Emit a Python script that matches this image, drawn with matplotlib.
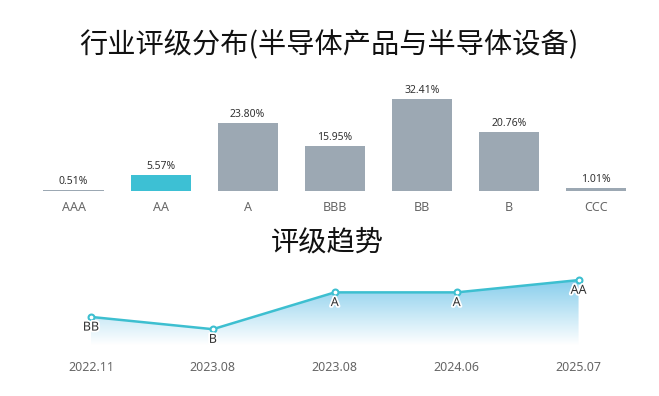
import matplotlib
matplotlib.use("Agg")
import matplotlib.pyplot as plt
import numpy as np
from matplotlib.patches import Polygon
import matplotlib.patheffects as pe

plt.rcParams['font.family'] = ['Noto Sans CJK SC', 'Noto Sans', 'DejaVu Sans']

categories = ['AAA', 'AA', 'A', 'BBB', 'BB', 'B', 'CCC']
shares = [0.51, 5.57, 23.80, 15.95, 32.41, 20.76, 1.01]
highlight = 'AA'

dates = ['2022.11', '2023.08', '2023.08', '2024.06', '2025.07']
ratings = ['BB', 'B', 'A', 'A', 'AA']
rating_scale = ['CCC', 'B', 'BB', 'BBB', 'A', 'AA', 'AAA']

W, H = 659, 396
fig = plt.figure(figsize=(W / 100, H / 100), dpi=100)

def rect(l, t, r, b):
    return [l / W, 1 - b / H, (r - l) / W, (b - t) / H]

# Titles
fig.text(329 / W, 1 - 45 / H, '行业评级分布(半导体产品与半导体设备)', ha='center', va='center',
         fontsize=20.3, color='#111111')
fig.text(327 / W, 1 - 243 / H, '评级趋势', ha='center', va='center', fontsize=20.3, color='#111111')

# Bar chart
ax1 = fig.add_axes(rect(30, 80, 639.5, 191))
x = np.arange(len(categories))
colors = ['#3dc0d4' if c == highlight else '#9ca8b3' for c in categories]
ax1.bar(x, shares, width=0.69, color=colors)
for xi, v in zip(x, shares):
    ax1.text(xi, v + 1.0, f'{v:.2f}%', ha='center', va='bottom', fontsize=7.5, color='#333333',
             family=['Noto Sans', 'DejaVu Sans'])
ax1.set_xlim(-0.5, len(categories) - 0.5)
ax1.set_ylim(0, 39)
ax1.set_xticks(x)
ax1.set_xticklabels(categories, fontsize=9, color='#666666', family=['Noto Sans', 'DejaVu Sans'])
ax1.tick_params(axis='x', length=0, pad=7)
ax1.set_yticks([])
for s in ax1.spines.values():
    s.set_visible(False)

# Line chart
ax2 = fig.add_axes(rect(30, 258, 639.5, 347))
xs = np.arange(len(dates))
ys = np.array([rating_scale.index(r) for r in ratings], dtype=float)
ybot = ys.min() - 1.45
ytopl = ys.max() + 1.8

# gradient fill
ytop = ys.max()
grad = np.linspace(0, 1, 256).reshape(-1, 1)
top = np.array([0x88, 0xce, 0xec]) / 255
bot = np.array([1, 1, 1])
img = (grad[:, :, None] * top[None, None, :] + (1 - grad[:, :, None]) * bot[None, None, :])
im = ax2.imshow(img, extent=[xs[0], xs[-1], ybot + 0.2, ytop], origin='lower', aspect='auto', zorder=1)
verts = [(xs[0], ybot)] + list(zip(xs, ys)) + [(xs[-1], ybot)]
poly = Polygon(verts, closed=True, facecolor='none', edgecolor='none')
ax2.add_patch(poly)
im.set_clip_path(poly)

ax2.plot(xs, ys, color='#3dbfd0', lw=1.8, zorder=3)
ax2.scatter(xs, ys, s=18, facecolor='white', edgecolor='#3dbfd0', linewidth=1.5, zorder=4)
for xi, yi, r in zip(xs, ys, ratings):
    ax2.text(xi, yi - 0.3, r, ha='center', va='top', fontsize=9, color='#333333', zorder=5,
             family=['Noto Sans', 'DejaVu Sans'],
             path_effects=[pe.withStroke(linewidth=2.5, foreground='white')])

ax2.set_xlim(-0.5, len(dates) - 0.5)
ax2.set_ylim(ybot, ytopl)
ax2.set_xticks(xs)
ax2.set_xticklabels(dates, fontsize=9, color='#666666', family=['Noto Sans', 'DejaVu Sans'])
ax2.tick_params(axis='x', length=0, pad=10)
ax2.set_yticks([])
for s in ax2.spines.values():
    s.set_visible(False)

fig.savefig('out.png', dpi=100, facecolor='white')
